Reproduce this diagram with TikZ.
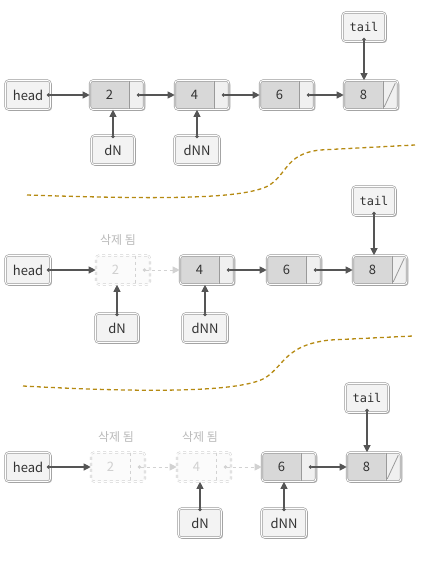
\documentclass[tikz,border=0pt]{standalone}
\usepackage{fontspec}
\setmainfont{Noto Sans CJK KR}
\setmonofont{DejaVu Sans Mono}
\usepackage{tikz}
\usetikzlibrary{arrows.meta,shadows}
\usepackage{xcolor}
\definecolor{boxline}{HTML}{9A9A9A}
\definecolor{datfill}{HTML}{D8D8D8}
\definecolor{ptrfill}{HTML}{F0F0F0}
\definecolor{varfill}{HTML}{F3F3F3}
\definecolor{arrowc}{HTML}{555555}
\definecolor{txt}{HTML}{333333}
\definecolor{goneline}{HTML}{D2D2D2}
\definecolor{gonetext}{HTML}{D0D0D0}
\definecolor{gold}{HTML}{B58A12}

\begin{document}
\begin{tikzpicture}[x=1pt,y=-1pt,font=\fontsize{13}{15}\selectfont,
  box/.style={rounded corners=3pt,draw=boxline,line width=0.6pt,double=white,
    double distance=0.9pt,fill=varfill,text=txt,minimum height=29pt,
    minimum width=43pt,inner sep=0pt,
    drop shadow={shadow xshift=1.4pt,shadow yshift=-1.4pt,fill=gray!55,opacity=1}},
  lnode/.style={box,fill=ptrfill,minimum width=54pt,
    path picture={
      \fill[datfill] (path picture bounding box.north west) rectangle ([xshift=-15pt]path picture bounding box.south east);
      \draw[boxline,line width=0.6pt] ([xshift=-15pt]path picture bounding box.north east) -- ([xshift=-15pt]path picture bounding box.south east);}},
  gone/.style={rounded corners=3pt,draw=goneline,dashed,line width=0.6pt,double=white,
    double distance=0.9pt,fill=white!97!gray,text=gonetext,minimum height=29pt,
    minimum width=54pt,inner sep=0pt,
    path picture={
      \draw[goneline,dashed,line width=0.6pt] ([xshift=-15pt]path picture bounding box.north east) -- ([xshift=-15pt]path picture bounding box.south east);}},
  gonelabel/.style={text=gray!55,font=\fontsize{12}{14}\selectfont},
  ptr/.style={draw=arrowc,line width=1.1pt,{Circle[length=3.4pt]}-{Triangle[length=7pt,width=7pt]}},
  goneptr/.style={draw=goneline,line width=1pt,dashed,{Circle[length=3.4pt]}-{Triangle[length=7pt,width=7pt]}},
  cut/.style={draw=gold,line width=1.3pt,dash pattern=on 4pt off 3pt}]
\useasboundingbox (0,0) rectangle (434,563);

% row 1
\node[box,minimum width=45pt] (h1) at (28,95) {head};
\foreach \v/\x in {2/117,4/202,6/287,8/371}
  \node[lnode] (a\v) at (\x,95) {\makebox[39pt]{\v}\makebox[15pt]{}};
\node[box,font=\ttfamily\fontsize{12}{14}\selectfont] (t1) at (364,27) {tail};
\node[box] (d1) at (113,150) {dN};
\node[box,minimum width=45pt] (dd1) at (197,150) {dNN};
\draw[ptr] ([xshift=-4pt]h1.east) -- (a2.west);
\foreach \s/\t in {2/4,4/6,6/8}
  \draw[ptr] ([xshift=-7.5pt]a\s.east) -- (a\t.west);
\draw[boxline,line width=0.8pt] ([xshift=-14pt,yshift=3pt]a8.south east) -- ([xshift=-3pt,yshift=-3pt]a8.north east);
\draw[ptr] ([yshift=4pt]t1.south) -- (t1.south |- a8.north);
\draw[ptr] ([yshift=-3pt]d1.north) -- (d1.north |- a2.south);
\draw[ptr] ([yshift=-3pt]dd1.north) -- (dd1.north |- a4.south);

\draw[cut] (27,195) .. controls (150,199) and (240,200) .. (268,186)
  .. controls (288,174) and (285,154) .. (320,150) -- (415,145);

% row 2
\node[box,minimum width=45pt] (h2) at (28,270) {head};
\node[gone] (b2) at (123,270) {\makebox[39pt]{2}\makebox[15pt]{}};
\foreach \v/\x in {4/207,6/294,8/380}
  \node[lnode] (b\v) at (\x,270) {\makebox[39pt]{\v}\makebox[15pt]{}};
\node[gonelabel] (g2) at (118,240) {삭제 됨};
\node[box,font=\ttfamily\fontsize{12}{14}\selectfont] (t2) at (374,201) {tail};
\node[box] (d2) at (117,328) {dN};
\node[box,minimum width=45pt] (dd2) at (205,328) {dNN};
\draw[ptr] ([xshift=-4pt]h2.east) -- (b2.west);
\draw[goneptr] ([xshift=-7.5pt]b2.east) -- (b4.west);
\foreach \s/\t in {4/6,6/8}
  \draw[ptr] ([xshift=-7.5pt]b\s.east) -- (b\t.west);
\draw[boxline,line width=0.8pt] ([xshift=-14pt,yshift=3pt]b8.south east) -- ([xshift=-3pt,yshift=-3pt]b8.north east);
\draw[ptr] ([yshift=4pt]t2.south) -- (t2.south |- b8.north);
\draw[ptr] ([yshift=-3pt]d2.north) -- (d2.north |- b2.south);
\draw[ptr] ([yshift=-3pt]dd2.north) -- (dd2.north |- b4.south);

\draw[cut] (23,386) .. controls (150,393) and (240,392) .. (265,378)
  .. controls (285,365) and (285,345) .. (330,340) -- (413,336);

% row 3
\node[box,minimum width=45pt] (h3) at (28,467) {head};
\foreach \v/\x in {2/118,4/204}
  \node[gone] (c\v) at (\x,467) {\makebox[39pt]{\v}\makebox[15pt]{}};
\foreach \v/\x in {6/289,8/374}
  \node[lnode] (c\v) at (\x,467) {\makebox[39pt]{\v}\makebox[15pt]{}};
\node[gonelabel] (g3a) at (116,437) {삭제 됨};
\node[gonelabel] (g3b) at (200,437) {삭제 됨};
\node[box,font=\ttfamily\fontsize{12}{14}\selectfont] (t3) at (367,398) {tail};
\node[box] (d3) at (200,523) {dN};
\node[box,minimum width=45pt] (dd3) at (284,523) {dNN};
\draw[ptr] ([xshift=-4pt]h3.east) -- (c2.west);
\foreach \s/\t in {2/4,4/6}
  \draw[goneptr] ([xshift=-7.5pt]c\s.east) -- (c\t.west);
\draw[ptr] ([xshift=-7.5pt]c6.east) -- (c8.west);
\draw[boxline,line width=0.8pt] ([xshift=-14pt,yshift=3pt]c8.south east) -- ([xshift=-3pt,yshift=-3pt]c8.north east);
\draw[ptr] ([yshift=4pt]t3.south) -- (t3.south |- c8.north);
\draw[ptr] ([yshift=-3pt]d3.north) -- (d3.north |- c4.south);
\draw[ptr] ([yshift=-3pt]dd3.north) -- (dd3.north |- c6.south);
\end{tikzpicture}
\end{document}
